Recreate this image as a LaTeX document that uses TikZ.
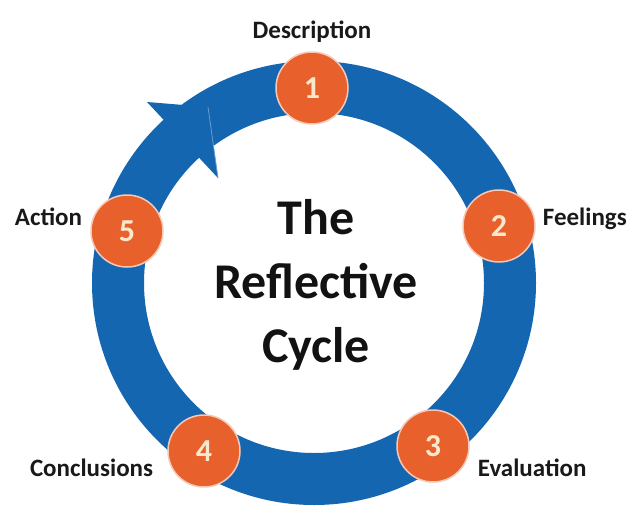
\documentclass[tikz,border=0pt]{standalone}
\usepackage{fontspec}
\setmainfont{Carlito}
\usepackage{tikz}
\usetikzlibrary{positioning}
\definecolor{ringblue}{RGB}{21,102,176}
\definecolor{stageorange}{RGB}{232,97,44}
\definecolor{digitcream}{RGB}{250,232,205}
\tikzset{
    stage/.style={circle, fill=stageorange, draw=stageorange!35!white, line width=1.5pt, minimum size=72pt, inner sep=0pt, text=digitcream, font=\bfseries\fontsize{32}{32}\selectfont},
    stagelabel/.style={inner sep=0pt, font=\bfseries\fontsize{25}{30}\selectfont, text=black!90},
    ringfill/.style={fill=ringblue, even odd rule}
}

\begin{document}
\begin{tikzpicture}[x=1pt, y=-1pt]
\useasboundingbox (0,0) rectangle (636,506);

% Define the ring and its arrow head (Blue)
\coordinate (ctr) at (314,283);
\fill[ringfill] (ctr) circle[radius=222pt] (ctr) circle[radius=170pt];
\coordinate (barbout) at (147,102);
\coordinate (tip) at (208,107);
\coordinate (barbin) at (218,178);
\fill[ringblue] (barbout) -- (tip) -- (barbin) -- cycle;
\draw[ringblue!65!white, line width=0.8pt] (tip) -- (barbin);

% Define stages (Orange/Circle)
\node[stage] (s1) at (312,88) {1};
\node[stage] (s2) at (499,226) {2};
\node[stage] (s3) at (433,446) {3};
\node[stage] (s4) at (204,451) {4};
\node[stage] (s5) at (127,231) {5};

% Define stage labels
\node[stagelabel] (desc) [above=9pt of s1] {Description};
\node[stagelabel] (feel) [right=7pt of s2, yshift=7pt] {Feelings};
\node[stagelabel] (eval) [right=8pt of s3, yshift=-22pt] {Evaluation};
\node[stagelabel] (concl) [left=14pt of s4, yshift=-17pt] {Conclusions};
\node[stagelabel] (act) [left=8pt of s5, yshift=14pt] {Action};

% Title in the middle
\node[align=center, font=\bfseries\fontsize{50}{64}\selectfont, text=black!93] (title) at (316,285) {The\\Reflective\\Cycle};

\end{tikzpicture}
\end{document}
